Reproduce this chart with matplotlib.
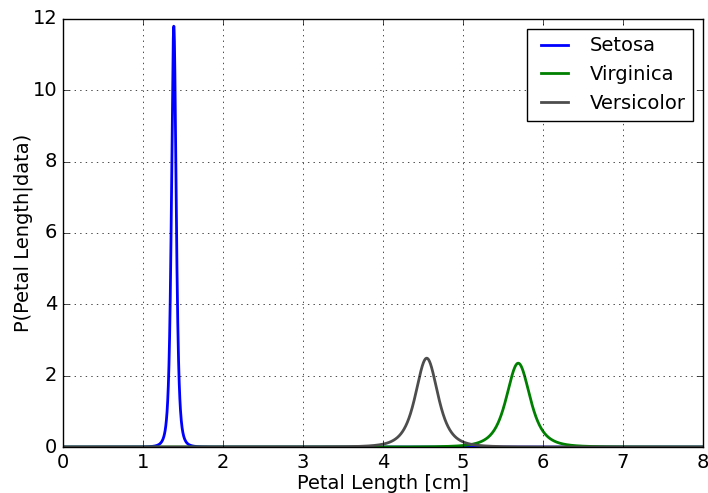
import numpy as np
import matplotlib
matplotlib.use("Agg")
import matplotlib.pyplot as plt
from math import gamma, pi, sqrt

# Data: Student-t shaped curves
species = ["Setosa", "Virginica", "Versicolor"]
centers = [1.385, 5.69, 4.546]      # peak location (cm)
peaks = [11.8, 2.35, 2.49]           # peak height
dof = [3, 3, 3]                      # degrees of freedom
colors = ["blue", "green", "#4d4d4d"]

x_ticks = [0, 1, 2, 3, 4, 5, 6, 7, 8]
y_ticks = [0, 2, 4, 6, 8, 10, 12]

plt.style.use("classic")
plt.rcParams["font.size"] = 14
fig = plt.figure(figsize=(7.08, 4.93), dpi=100, facecolor="white")
ax = fig.add_axes([0.089, 0.0933, 0.904, 0.8682])

x = np.linspace(0, 8, 4000)
for name, mu, pk, nu, c in zip(species, centers, peaks, dof, colors):
    cnorm = gamma((nu + 1) / 2) / (gamma(nu / 2) * sqrt(nu * pi))
    s = cnorm / pk
    y = cnorm / s * (1 + ((x - mu) / s) ** 2 / nu) ** (-(nu + 1) / 2)
    ax.plot(x, y, color=c, lw=2, label=name)

ax.set_xlim(0, 8)
ax.set_ylim(0, 12)
ax.set_xticks(x_ticks)
ax.set_yticks(y_ticks)
ax.grid(True)
ax.set_xlabel("Petal Length [cm]", labelpad=2)
ax.set_ylabel("P(Petal Length|data)", labelpad=0)
ax.legend(loc="upper right", fontsize=14)
fig.savefig("out.png", dpi=100, facecolor="white")
